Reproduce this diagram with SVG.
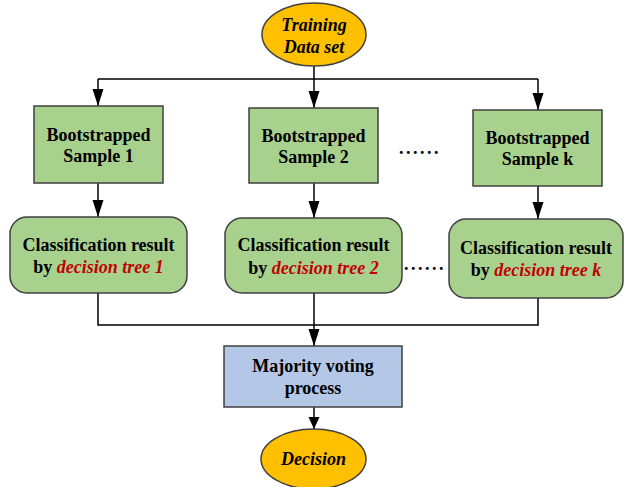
<svg xmlns="http://www.w3.org/2000/svg" width="624" height="487" viewBox="0 0 624 487">
<style>
.t{font-family:"Liberation Serif","Times New Roman",serif;font-weight:bold;font-size:18px;fill:#000;text-anchor:middle}
.i{font-style:italic}
.r{fill:#c00000;font-style:italic}
.g{fill:#a9d18e;stroke:#404040;stroke-width:1.5}
.o{fill:#ffc000;stroke:#404040;stroke-width:1.5}
.b{fill:#b4c7e7;stroke:#404040;stroke-width:1.5}
.c{fill:none;stroke:#000;stroke-width:1.5}
.dots{font-family:"Liberation Serif",serif;font-weight:bold;font-size:18px;fill:#000;letter-spacing:2.5px}
</style>
<defs>
<marker id="a" markerUnits="userSpaceOnUse" markerWidth="18" markerHeight="12" refX="17" refY="6" orient="auto" viewBox="0 0 18 12">
<path d="M0,0.5 L0,11.5 L17,6 Z" fill="#000"/>
</marker>
<marker id="s" markerUnits="userSpaceOnUse" markerWidth="13" markerHeight="12" refX="12" refY="6" orient="auto" viewBox="0 0 13 12">
<path d="M0,0.5 L0,11.5 L12,6 Z" fill="#000"/>
</marker>
</defs>
<g id="connectors">
<path class="c" d="M314,66 V79 M98,79 H538"/>
<path class="c" d="M98,79 V106" marker-end="url(#a)"/>
<path class="c" d="M314,79 V108" marker-end="url(#a)"/>
<path class="c" d="M538,79 V110" marker-end="url(#a)"/>
<path class="c" d="M98,183 V217" marker-end="url(#a)"/>
<path class="c" d="M314,183 V218" marker-end="url(#a)"/>
<path class="c" d="M538,186 V219" marker-end="url(#a)"/>
<path class="c" d="M98,293 V325 H538 V298"/>
<path class="c" d="M314,293 V346" marker-end="url(#a)"/>
<path class="c" d="M314,407 V429" marker-end="url(#s)"/>
</g>
<g id="training">
<ellipse class="o" cx="314" cy="34.5" rx="52" ry="31.5"/>
<text class="t i" x="314" y="31">Training</text>
<text class="t i" x="314" y="53">Data set</text>
</g>
<g id="sample1">
<rect class="g" x="34" y="106" width="129" height="77"/>
<text class="t" x="98.5" y="141">Bootstrapped</text>
<text class="t" x="98.5" y="162">Sample 1</text>
</g>
<g id="sample2">
<rect class="g" x="249" y="108" width="129" height="75"/>
<text class="t" x="313.5" y="142">Bootstrapped</text>
<text class="t" x="313.5" y="163">Sample 2</text>
</g>
<g id="samplek">
<rect class="g" x="473" y="110" width="129" height="76"/>
<text class="t" x="537.5" y="144">Bootstrapped</text>
<text class="t" x="537.5" y="165">Sample k</text>
</g>
<g id="dots1"><text class="dots" x="399" y="154">......</text></g>
<g id="class1">
<rect class="g" x="10" y="217" width="177" height="76" rx="17"/>
<text class="t" x="98.5" y="251">Classification result</text>
<text class="t" x="98.5" y="273">by <tspan class="r">decision tree 1</tspan></text>
</g>
<g id="class2">
<rect class="g" x="225" y="218" width="177" height="75" rx="17"/>
<text class="t" x="313.5" y="251">Classification result</text>
<text class="t" x="313.5" y="274">by <tspan class="r">decision tree 2</tspan></text>
</g>
<g id="dots2"><text class="dots" x="404" y="270">......</text></g>
<g id="classk">
<rect class="g" x="449" y="219" width="174" height="79" rx="17"/>
<text class="t" x="536" y="254">Classification result</text>
<text class="t" x="536" y="276">by <tspan class="r">decision tree k</tspan></text>
</g>
<g id="majority">
<rect class="b" x="224" y="346" width="178" height="61"/>
<text class="t" x="313" y="372">Majority voting</text>
<text class="t" x="313" y="394">process</text>
</g>
<g id="decision">
<ellipse class="o" cx="313.5" cy="459" rx="52.5" ry="30"/>
<text class="t i" x="313.5" y="465">Decision</text>
</g>
</svg>
